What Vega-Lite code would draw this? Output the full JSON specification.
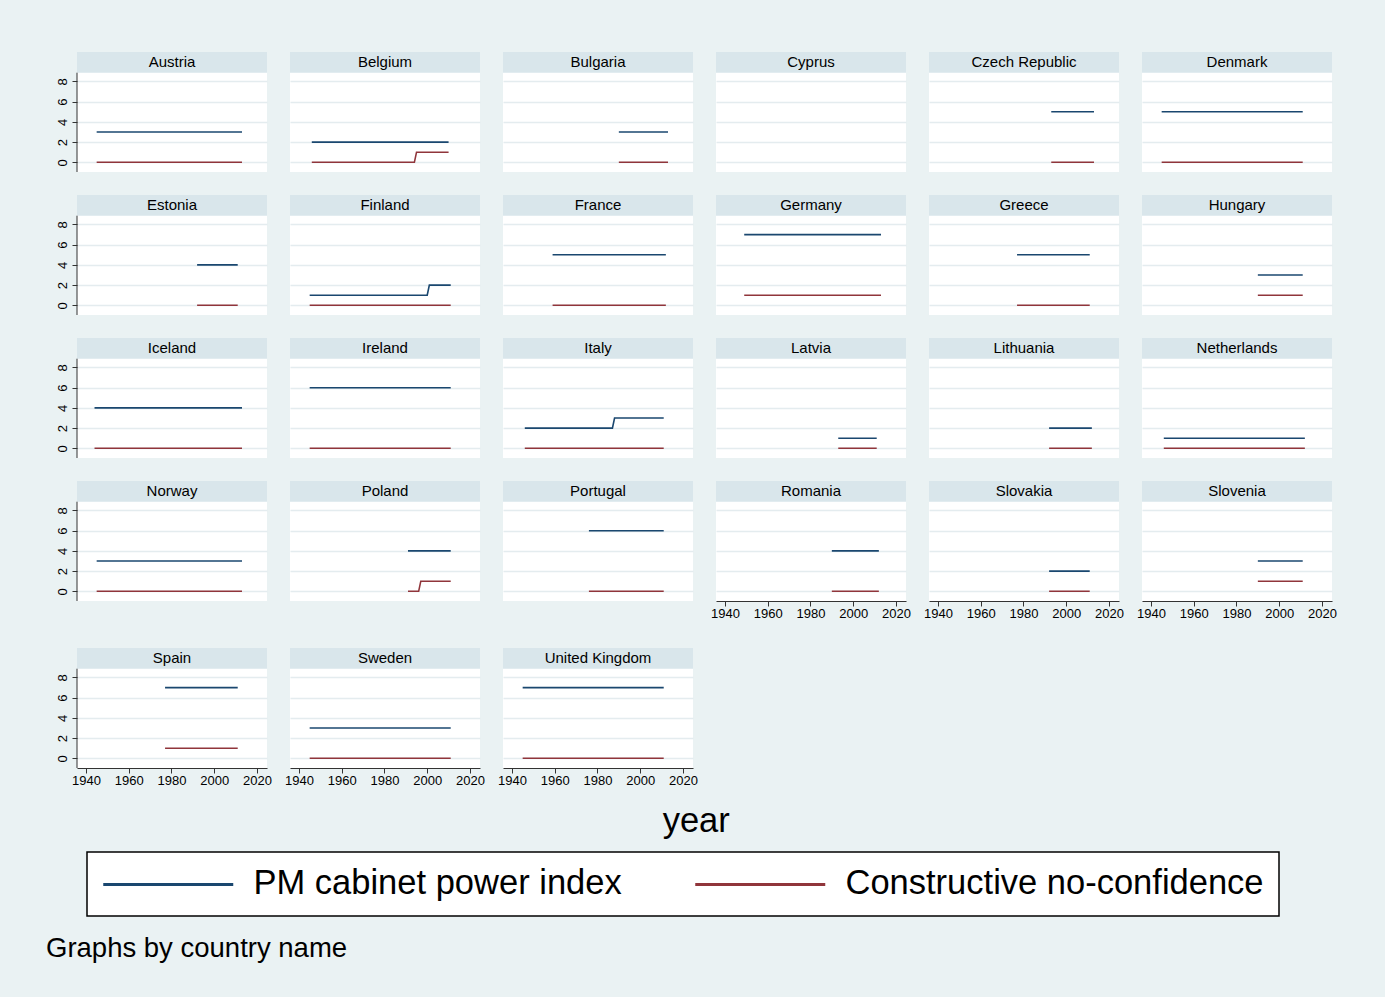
{
  "$schema": "https://vega.github.io/schema/vega-lite/v6.json",
  "background": "#eaf2f3",
  "padding": {"left": 46, "top": 52, "right": 48, "bottom": 35},
  "title": {"text": "Graphs by country name", "orient": "bottom", "anchor": "start", "fontSize": 27.5, "fontWeight": "normal", "color": "#000", "offset": 18, "dx": -10},
  "data": {"values": [
    {"country": "Austria", "year": 1945, "PM cabinet power index": 3, "Constructive no-confidence": 0},
    {"country": "Austria", "year": 2013, "PM cabinet power index": 3, "Constructive no-confidence": 0},
    {"country": "Belgium", "year": 1946, "PM cabinet power index": 2, "Constructive no-confidence": 0},
    {"country": "Belgium", "year": 1994, "PM cabinet power index": 2, "Constructive no-confidence": 0},
    {"country": "Belgium", "year": 1995, "PM cabinet power index": 2, "Constructive no-confidence": 1},
    {"country": "Belgium", "year": 2010, "PM cabinet power index": 2, "Constructive no-confidence": 1},
    {"country": "Bulgaria", "year": 1990, "PM cabinet power index": 3, "Constructive no-confidence": 0},
    {"country": "Bulgaria", "year": 2013, "PM cabinet power index": 3, "Constructive no-confidence": 0},
    {"country": "Cyprus", "year": 2000},
    {"country": "Czech Republic", "year": 1993, "PM cabinet power index": 5, "Constructive no-confidence": 0},
    {"country": "Czech Republic", "year": 2013, "PM cabinet power index": 5, "Constructive no-confidence": 0},
    {"country": "Denmark", "year": 1945, "PM cabinet power index": 5, "Constructive no-confidence": 0},
    {"country": "Denmark", "year": 2011, "PM cabinet power index": 5, "Constructive no-confidence": 0},
    {"country": "Estonia", "year": 1992, "PM cabinet power index": 4, "Constructive no-confidence": 0},
    {"country": "Estonia", "year": 2011, "PM cabinet power index": 4, "Constructive no-confidence": 0},
    {"country": "Finland", "year": 1945, "PM cabinet power index": 1, "Constructive no-confidence": 0},
    {"country": "Finland", "year": 2000, "PM cabinet power index": 1, "Constructive no-confidence": 0},
    {"country": "Finland", "year": 2001, "PM cabinet power index": 2, "Constructive no-confidence": 0},
    {"country": "Finland", "year": 2011, "PM cabinet power index": 2, "Constructive no-confidence": 0},
    {"country": "France", "year": 1959, "PM cabinet power index": 5, "Constructive no-confidence": 0},
    {"country": "France", "year": 2012, "PM cabinet power index": 5, "Constructive no-confidence": 0},
    {"country": "Germany", "year": 1949, "PM cabinet power index": 7, "Constructive no-confidence": 1},
    {"country": "Germany", "year": 2013, "PM cabinet power index": 7, "Constructive no-confidence": 1},
    {"country": "Greece", "year": 1977, "PM cabinet power index": 5, "Constructive no-confidence": 0},
    {"country": "Greece", "year": 2011, "PM cabinet power index": 5, "Constructive no-confidence": 0},
    {"country": "Hungary", "year": 1990, "PM cabinet power index": 3, "Constructive no-confidence": 1},
    {"country": "Hungary", "year": 2011, "PM cabinet power index": 3, "Constructive no-confidence": 1},
    {"country": "Iceland", "year": 1944, "PM cabinet power index": 4, "Constructive no-confidence": 0},
    {"country": "Iceland", "year": 2013, "PM cabinet power index": 4, "Constructive no-confidence": 0},
    {"country": "Ireland", "year": 1945, "PM cabinet power index": 6, "Constructive no-confidence": 0},
    {"country": "Ireland", "year": 2011, "PM cabinet power index": 6, "Constructive no-confidence": 0},
    {"country": "Italy", "year": 1946, "PM cabinet power index": 2, "Constructive no-confidence": 0},
    {"country": "Italy", "year": 1987, "PM cabinet power index": 2, "Constructive no-confidence": 0},
    {"country": "Italy", "year": 1988, "PM cabinet power index": 3, "Constructive no-confidence": 0},
    {"country": "Italy", "year": 2011, "PM cabinet power index": 3, "Constructive no-confidence": 0},
    {"country": "Latvia", "year": 1993, "PM cabinet power index": 1, "Constructive no-confidence": 0},
    {"country": "Latvia", "year": 2011, "PM cabinet power index": 1, "Constructive no-confidence": 0},
    {"country": "Lithuania", "year": 1992, "PM cabinet power index": 2, "Constructive no-confidence": 0},
    {"country": "Lithuania", "year": 2012, "PM cabinet power index": 2, "Constructive no-confidence": 0},
    {"country": "Netherlands", "year": 1946, "PM cabinet power index": 1, "Constructive no-confidence": 0},
    {"country": "Netherlands", "year": 2012, "PM cabinet power index": 1, "Constructive no-confidence": 0},
    {"country": "Norway", "year": 1945, "PM cabinet power index": 3, "Constructive no-confidence": 0},
    {"country": "Norway", "year": 2013, "PM cabinet power index": 3, "Constructive no-confidence": 0},
    {"country": "Poland", "year": 1991, "PM cabinet power index": 4, "Constructive no-confidence": 0},
    {"country": "Poland", "year": 1996, "PM cabinet power index": 4, "Constructive no-confidence": 0},
    {"country": "Poland", "year": 1997, "PM cabinet power index": 4, "Constructive no-confidence": 1},
    {"country": "Poland", "year": 2011, "PM cabinet power index": 4, "Constructive no-confidence": 1},
    {"country": "Portugal", "year": 1976, "PM cabinet power index": 6, "Constructive no-confidence": 0},
    {"country": "Portugal", "year": 2011, "PM cabinet power index": 6, "Constructive no-confidence": 0},
    {"country": "Romania", "year": 1990, "PM cabinet power index": 4, "Constructive no-confidence": 0},
    {"country": "Romania", "year": 2012, "PM cabinet power index": 4, "Constructive no-confidence": 0},
    {"country": "Slovakia", "year": 1992, "PM cabinet power index": 2, "Constructive no-confidence": 0},
    {"country": "Slovakia", "year": 2011, "PM cabinet power index": 2, "Constructive no-confidence": 0},
    {"country": "Slovenia", "year": 1990, "PM cabinet power index": 3, "Constructive no-confidence": 1},
    {"country": "Slovenia", "year": 2011, "PM cabinet power index": 3, "Constructive no-confidence": 1},
    {"country": "Spain", "year": 1977, "PM cabinet power index": 7, "Constructive no-confidence": 1},
    {"country": "Spain", "year": 2011, "PM cabinet power index": 7, "Constructive no-confidence": 1},
    {"country": "Sweden", "year": 1945, "PM cabinet power index": 3, "Constructive no-confidence": 0},
    {"country": "Sweden", "year": 2011, "PM cabinet power index": 3, "Constructive no-confidence": 0},
    {"country": "United Kingdom", "year": 1945, "PM cabinet power index": 7, "Constructive no-confidence": 0},
    {"country": "United Kingdom", "year": 2011, "PM cabinet power index": 7, "Constructive no-confidence": 0}
  ]},
  "transform": [{"fold": ["PM cabinet power index", "Constructive no-confidence"], "as": ["series", "value"]}],
  "vconcat": [
    {
      "title": {"text": "year", "orient": "bottom", "anchor": "middle", "fontSize": 34.5, "fontWeight": "normal", "color": "#000", "offset": 18},
      "spacing": 28,
      "vconcat": [
        {"spacing": 22, "vconcat": [
        {"spacing": 23, "bounds": "flush", "hconcat": [
          {"transform": [{"filter": {"field": "country", "equal": "Austria"}}], "layer": [
            {"transform": [{"aggregate": [{"op": "count", "as": "n"}], "groupby": ["country"]}], "layer": [
              {"mark": {"type": "rect", "fill": "#d9e6eb"}, "encoding": {"x": {"datum": 1935.8, "type": "quantitative"}, "x2": {"datum": 2024.7}, "y": {"datum": 8.87, "type": "quantitative"}, "y2": {"datum": 10.92}}},
              {"mark": {"type": "text", "fontSize": 15, "color": "#000", "baseline": "middle"}, "encoding": {"text": {"field": "country", "type": "nominal"}, "y": {"datum": 9.9, "type": "quantitative"}}},
              {"mark": {"type": "rule", "color": "#333"}, "encoding": {"x": {"datum": 1935.8, "type": "quantitative"}, "y": {"datum": -0.96, "type": "quantitative"}, "y2": {"datum": 8.87}}}
            ]},
            {"mark": {"type": "line", "strokeWidth": 1.6}, "encoding": {
              "x": {"field": "year", "type": "quantitative", "scale": {"domain": [1935.8, 2024.7], "nice": false, "zero": false}, "axis": {"title": null, "labels": false, "ticks": false, "domain": false, "grid": false}},
              "y": {"field": "value", "type": "quantitative", "scale": {"domain": [-0.96, 10.92], "nice": false, "zero": false}, "axis": {"values": [0, 2, 4, 6, 8], "tickCount": 10, "title": null, "domain": false, "labelAngle": -90, "labelAlign": "center", "labelBaseline": "bottom", "labelOverlap": false, "tickSize": 5, "labelPadding": 3, "grid": true}},
              "color": {"field": "series", "type": "nominal", "scale": {"domain": ["PM cabinet power index", "Constructive no-confidence"], "range": ["#1a476f", "#90353b"]}, "legend": {"title": null, "orient": "none", "legendX": 10, "legendY": 800, "direction": "horizontal", "columns": 2, "gridAlign": "all"}}}}
          ]},
          {"transform": [{"filter": {"field": "country", "equal": "Belgium"}}], "layer": [
            {"transform": [{"aggregate": [{"op": "count", "as": "n"}], "groupby": ["country"]}], "layer": [
              {"mark": {"type": "rect", "fill": "#d9e6eb"}, "encoding": {"x": {"datum": 1935.8, "type": "quantitative"}, "x2": {"datum": 2024.7}, "y": {"datum": 8.87, "type": "quantitative"}, "y2": {"datum": 10.92}}},
              {"mark": {"type": "text", "fontSize": 15, "color": "#000", "baseline": "middle"}, "encoding": {"text": {"field": "country", "type": "nominal"}, "y": {"datum": 9.9, "type": "quantitative"}}}
            ]},
            {"mark": {"type": "line", "strokeWidth": 1.6}, "encoding": {
              "x": {"field": "year", "type": "quantitative", "scale": {"domain": [1935.8, 2024.7], "nice": false, "zero": false}, "axis": {"title": null, "labels": false, "ticks": false, "domain": false, "grid": false}},
              "y": {"field": "value", "type": "quantitative", "scale": {"domain": [-0.96, 10.92], "nice": false, "zero": false}, "axis": {"values": [0, 2, 4, 6, 8], "tickCount": 10, "title": null, "domain": false, "labels": false, "ticks": false, "grid": true}},
              "color": {"field": "series", "type": "nominal", "scale": {"domain": ["PM cabinet power index", "Constructive no-confidence"], "range": ["#1a476f", "#90353b"]}, "legend": null}}}
          ]},
          {"transform": [{"filter": {"field": "country", "equal": "Bulgaria"}}], "layer": [
            {"transform": [{"aggregate": [{"op": "count", "as": "n"}], "groupby": ["country"]}], "layer": [
              {"mark": {"type": "rect", "fill": "#d9e6eb"}, "encoding": {"x": {"datum": 1935.8, "type": "quantitative"}, "x2": {"datum": 2024.7}, "y": {"datum": 8.87, "type": "quantitative"}, "y2": {"datum": 10.92}}},
              {"mark": {"type": "text", "fontSize": 15, "color": "#000", "baseline": "middle"}, "encoding": {"text": {"field": "country", "type": "nominal"}, "y": {"datum": 9.9, "type": "quantitative"}}}
            ]},
            {"mark": {"type": "line", "strokeWidth": 1.6}, "encoding": {
              "x": {"field": "year", "type": "quantitative", "scale": {"domain": [1935.8, 2024.7], "nice": false, "zero": false}, "axis": {"title": null, "labels": false, "ticks": false, "domain": false, "grid": false}},
              "y": {"field": "value", "type": "quantitative", "scale": {"domain": [-0.96, 10.92], "nice": false, "zero": false}, "axis": {"values": [0, 2, 4, 6, 8], "tickCount": 10, "title": null, "domain": false, "labels": false, "ticks": false, "grid": true}},
              "color": {"field": "series", "type": "nominal", "scale": {"domain": ["PM cabinet power index", "Constructive no-confidence"], "range": ["#1a476f", "#90353b"]}, "legend": null}}}
          ]},
          {"transform": [{"filter": {"field": "country", "equal": "Cyprus"}}], "layer": [
            {"transform": [{"aggregate": [{"op": "count", "as": "n"}], "groupby": ["country"]}], "layer": [
              {"mark": {"type": "rect", "fill": "#d9e6eb"}, "encoding": {"x": {"datum": 1935.8, "type": "quantitative"}, "x2": {"datum": 2024.7}, "y": {"datum": 8.87, "type": "quantitative"}, "y2": {"datum": 10.92}}},
              {"mark": {"type": "text", "fontSize": 15, "color": "#000", "baseline": "middle"}, "encoding": {"text": {"field": "country", "type": "nominal"}, "y": {"datum": 9.9, "type": "quantitative"}}}
            ]},
            {"mark": {"type": "line", "strokeWidth": 1.6}, "encoding": {
              "x": {"field": "year", "type": "quantitative", "scale": {"domain": [1935.8, 2024.7], "nice": false, "zero": false}, "axis": {"title": null, "labels": false, "ticks": false, "domain": false, "grid": false}},
              "y": {"field": "value", "type": "quantitative", "scale": {"domain": [-0.96, 10.92], "nice": false, "zero": false}, "axis": {"values": [0, 2, 4, 6, 8], "tickCount": 10, "title": null, "domain": false, "labels": false, "ticks": false, "grid": true}},
              "color": {"field": "series", "type": "nominal", "scale": {"domain": ["PM cabinet power index", "Constructive no-confidence"], "range": ["#1a476f", "#90353b"]}, "legend": null}}}
          ]},
          {"transform": [{"filter": {"field": "country", "equal": "Czech Republic"}}], "layer": [
            {"transform": [{"aggregate": [{"op": "count", "as": "n"}], "groupby": ["country"]}], "layer": [
              {"mark": {"type": "rect", "fill": "#d9e6eb"}, "encoding": {"x": {"datum": 1935.8, "type": "quantitative"}, "x2": {"datum": 2024.7}, "y": {"datum": 8.87, "type": "quantitative"}, "y2": {"datum": 10.92}}},
              {"mark": {"type": "text", "fontSize": 15, "color": "#000", "baseline": "middle"}, "encoding": {"text": {"field": "country", "type": "nominal"}, "y": {"datum": 9.9, "type": "quantitative"}}}
            ]},
            {"mark": {"type": "line", "strokeWidth": 1.6}, "encoding": {
              "x": {"field": "year", "type": "quantitative", "scale": {"domain": [1935.8, 2024.7], "nice": false, "zero": false}, "axis": {"title": null, "labels": false, "ticks": false, "domain": false, "grid": false}},
              "y": {"field": "value", "type": "quantitative", "scale": {"domain": [-0.96, 10.92], "nice": false, "zero": false}, "axis": {"values": [0, 2, 4, 6, 8], "tickCount": 10, "title": null, "domain": false, "labels": false, "ticks": false, "grid": true}},
              "color": {"field": "series", "type": "nominal", "scale": {"domain": ["PM cabinet power index", "Constructive no-confidence"], "range": ["#1a476f", "#90353b"]}, "legend": null}}}
          ]},
          {"transform": [{"filter": {"field": "country", "equal": "Denmark"}}], "layer": [
            {"transform": [{"aggregate": [{"op": "count", "as": "n"}], "groupby": ["country"]}], "layer": [
              {"mark": {"type": "rect", "fill": "#d9e6eb"}, "encoding": {"x": {"datum": 1935.8, "type": "quantitative"}, "x2": {"datum": 2024.7}, "y": {"datum": 8.87, "type": "quantitative"}, "y2": {"datum": 10.92}}},
              {"mark": {"type": "text", "fontSize": 15, "color": "#000", "baseline": "middle"}, "encoding": {"text": {"field": "country", "type": "nominal"}, "y": {"datum": 9.9, "type": "quantitative"}}}
            ]},
            {"mark": {"type": "line", "strokeWidth": 1.6}, "encoding": {
              "x": {"field": "year", "type": "quantitative", "scale": {"domain": [1935.8, 2024.7], "nice": false, "zero": false}, "axis": {"title": null, "labels": false, "ticks": false, "domain": false, "grid": false}},
              "y": {"field": "value", "type": "quantitative", "scale": {"domain": [-0.96, 10.92], "nice": false, "zero": false}, "axis": {"values": [0, 2, 4, 6, 8], "tickCount": 10, "title": null, "domain": false, "labels": false, "ticks": false, "grid": true}},
              "color": {"field": "series", "type": "nominal", "scale": {"domain": ["PM cabinet power index", "Constructive no-confidence"], "range": ["#1a476f", "#90353b"]}, "legend": null}}}
          ]}
        ]},
        {"spacing": 23, "bounds": "flush", "hconcat": [
          {"transform": [{"filter": {"field": "country", "equal": "Estonia"}}], "layer": [
            {"transform": [{"aggregate": [{"op": "count", "as": "n"}], "groupby": ["country"]}], "layer": [
              {"mark": {"type": "rect", "fill": "#d9e6eb"}, "encoding": {"x": {"datum": 1935.8, "type": "quantitative"}, "x2": {"datum": 2024.7}, "y": {"datum": 8.87, "type": "quantitative"}, "y2": {"datum": 10.92}}},
              {"mark": {"type": "text", "fontSize": 15, "color": "#000", "baseline": "middle"}, "encoding": {"text": {"field": "country", "type": "nominal"}, "y": {"datum": 9.9, "type": "quantitative"}}},
              {"mark": {"type": "rule", "color": "#333"}, "encoding": {"x": {"datum": 1935.8, "type": "quantitative"}, "y": {"datum": -0.96, "type": "quantitative"}, "y2": {"datum": 8.87}}}
            ]},
            {"mark": {"type": "line", "strokeWidth": 1.6}, "encoding": {
              "x": {"field": "year", "type": "quantitative", "scale": {"domain": [1935.8, 2024.7], "nice": false, "zero": false}, "axis": {"title": null, "labels": false, "ticks": false, "domain": false, "grid": false}},
              "y": {"field": "value", "type": "quantitative", "scale": {"domain": [-0.96, 10.92], "nice": false, "zero": false}, "axis": {"values": [0, 2, 4, 6, 8], "tickCount": 10, "title": null, "domain": false, "labelAngle": -90, "labelAlign": "center", "labelBaseline": "bottom", "labelOverlap": false, "tickSize": 5, "labelPadding": 3, "grid": true}},
              "color": {"field": "series", "type": "nominal", "scale": {"domain": ["PM cabinet power index", "Constructive no-confidence"], "range": ["#1a476f", "#90353b"]}, "legend": null}}}
          ]},
          {"transform": [{"filter": {"field": "country", "equal": "Finland"}}], "layer": [
            {"transform": [{"aggregate": [{"op": "count", "as": "n"}], "groupby": ["country"]}], "layer": [
              {"mark": {"type": "rect", "fill": "#d9e6eb"}, "encoding": {"x": {"datum": 1935.8, "type": "quantitative"}, "x2": {"datum": 2024.7}, "y": {"datum": 8.87, "type": "quantitative"}, "y2": {"datum": 10.92}}},
              {"mark": {"type": "text", "fontSize": 15, "color": "#000", "baseline": "middle"}, "encoding": {"text": {"field": "country", "type": "nominal"}, "y": {"datum": 9.9, "type": "quantitative"}}}
            ]},
            {"mark": {"type": "line", "strokeWidth": 1.6}, "encoding": {
              "x": {"field": "year", "type": "quantitative", "scale": {"domain": [1935.8, 2024.7], "nice": false, "zero": false}, "axis": {"title": null, "labels": false, "ticks": false, "domain": false, "grid": false}},
              "y": {"field": "value", "type": "quantitative", "scale": {"domain": [-0.96, 10.92], "nice": false, "zero": false}, "axis": {"values": [0, 2, 4, 6, 8], "tickCount": 10, "title": null, "domain": false, "labels": false, "ticks": false, "grid": true}},
              "color": {"field": "series", "type": "nominal", "scale": {"domain": ["PM cabinet power index", "Constructive no-confidence"], "range": ["#1a476f", "#90353b"]}, "legend": null}}}
          ]},
          {"transform": [{"filter": {"field": "country", "equal": "France"}}], "layer": [
            {"transform": [{"aggregate": [{"op": "count", "as": "n"}], "groupby": ["country"]}], "layer": [
              {"mark": {"type": "rect", "fill": "#d9e6eb"}, "encoding": {"x": {"datum": 1935.8, "type": "quantitative"}, "x2": {"datum": 2024.7}, "y": {"datum": 8.87, "type": "quantitative"}, "y2": {"datum": 10.92}}},
              {"mark": {"type": "text", "fontSize": 15, "color": "#000", "baseline": "middle"}, "encoding": {"text": {"field": "country", "type": "nominal"}, "y": {"datum": 9.9, "type": "quantitative"}}}
            ]},
            {"mark": {"type": "line", "strokeWidth": 1.6}, "encoding": {
              "x": {"field": "year", "type": "quantitative", "scale": {"domain": [1935.8, 2024.7], "nice": false, "zero": false}, "axis": {"title": null, "labels": false, "ticks": false, "domain": false, "grid": false}},
              "y": {"field": "value", "type": "quantitative", "scale": {"domain": [-0.96, 10.92], "nice": false, "zero": false}, "axis": {"values": [0, 2, 4, 6, 8], "tickCount": 10, "title": null, "domain": false, "labels": false, "ticks": false, "grid": true}},
              "color": {"field": "series", "type": "nominal", "scale": {"domain": ["PM cabinet power index", "Constructive no-confidence"], "range": ["#1a476f", "#90353b"]}, "legend": null}}}
          ]},
          {"transform": [{"filter": {"field": "country", "equal": "Germany"}}], "layer": [
            {"transform": [{"aggregate": [{"op": "count", "as": "n"}], "groupby": ["country"]}], "layer": [
              {"mark": {"type": "rect", "fill": "#d9e6eb"}, "encoding": {"x": {"datum": 1935.8, "type": "quantitative"}, "x2": {"datum": 2024.7}, "y": {"datum": 8.87, "type": "quantitative"}, "y2": {"datum": 10.92}}},
              {"mark": {"type": "text", "fontSize": 15, "color": "#000", "baseline": "middle"}, "encoding": {"text": {"field": "country", "type": "nominal"}, "y": {"datum": 9.9, "type": "quantitative"}}}
            ]},
            {"mark": {"type": "line", "strokeWidth": 1.6}, "encoding": {
              "x": {"field": "year", "type": "quantitative", "scale": {"domain": [1935.8, 2024.7], "nice": false, "zero": false}, "axis": {"title": null, "labels": false, "ticks": false, "domain": false, "grid": false}},
              "y": {"field": "value", "type": "quantitative", "scale": {"domain": [-0.96, 10.92], "nice": false, "zero": false}, "axis": {"values": [0, 2, 4, 6, 8], "tickCount": 10, "title": null, "domain": false, "labels": false, "ticks": false, "grid": true}},
              "color": {"field": "series", "type": "nominal", "scale": {"domain": ["PM cabinet power index", "Constructive no-confidence"], "range": ["#1a476f", "#90353b"]}, "legend": null}}}
          ]},
          {"transform": [{"filter": {"field": "country", "equal": "Greece"}}], "layer": [
            {"transform": [{"aggregate": [{"op": "count", "as": "n"}], "groupby": ["country"]}], "layer": [
              {"mark": {"type": "rect", "fill": "#d9e6eb"}, "encoding": {"x": {"datum": 1935.8, "type": "quantitative"}, "x2": {"datum": 2024.7}, "y": {"datum": 8.87, "type": "quantitative"}, "y2": {"datum": 10.92}}},
              {"mark": {"type": "text", "fontSize": 15, "color": "#000", "baseline": "middle"}, "encoding": {"text": {"field": "country", "type": "nominal"}, "y": {"datum": 9.9, "type": "quantitative"}}}
            ]},
            {"mark": {"type": "line", "strokeWidth": 1.6}, "encoding": {
              "x": {"field": "year", "type": "quantitative", "scale": {"domain": [1935.8, 2024.7], "nice": false, "zero": false}, "axis": {"title": null, "labels": false, "ticks": false, "domain": false, "grid": false}},
              "y": {"field": "value", "type": "quantitative", "scale": {"domain": [-0.96, 10.92], "nice": false, "zero": false}, "axis": {"values": [0, 2, 4, 6, 8], "tickCount": 10, "title": null, "domain": false, "labels": false, "ticks": false, "grid": true}},
              "color": {"field": "series", "type": "nominal", "scale": {"domain": ["PM cabinet power index", "Constructive no-confidence"], "range": ["#1a476f", "#90353b"]}, "legend": null}}}
          ]},
          {"transform": [{"filter": {"field": "country", "equal": "Hungary"}}], "layer": [
            {"transform": [{"aggregate": [{"op": "count", "as": "n"}], "groupby": ["country"]}], "layer": [
              {"mark": {"type": "rect", "fill": "#d9e6eb"}, "encoding": {"x": {"datum": 1935.8, "type": "quantitative"}, "x2": {"datum": 2024.7}, "y": {"datum": 8.87, "type": "quantitative"}, "y2": {"datum": 10.92}}},
              {"mark": {"type": "text", "fontSize": 15, "color": "#000", "baseline": "middle"}, "encoding": {"text": {"field": "country", "type": "nominal"}, "y": {"datum": 9.9, "type": "quantitative"}}}
            ]},
            {"mark": {"type": "line", "strokeWidth": 1.6}, "encoding": {
              "x": {"field": "year", "type": "quantitative", "scale": {"domain": [1935.8, 2024.7], "nice": false, "zero": false}, "axis": {"title": null, "labels": false, "ticks": false, "domain": false, "grid": false}},
              "y": {"field": "value", "type": "quantitative", "scale": {"domain": [-0.96, 10.92], "nice": false, "zero": false}, "axis": {"values": [0, 2, 4, 6, 8], "tickCount": 10, "title": null, "domain": false, "labels": false, "ticks": false, "grid": true}},
              "color": {"field": "series", "type": "nominal", "scale": {"domain": ["PM cabinet power index", "Constructive no-confidence"], "range": ["#1a476f", "#90353b"]}, "legend": null}}}
          ]}
        ]},
        {"spacing": 23, "bounds": "flush", "hconcat": [
          {"transform": [{"filter": {"field": "country", "equal": "Iceland"}}], "layer": [
            {"transform": [{"aggregate": [{"op": "count", "as": "n"}], "groupby": ["country"]}], "layer": [
              {"mark": {"type": "rect", "fill": "#d9e6eb"}, "encoding": {"x": {"datum": 1935.8, "type": "quantitative"}, "x2": {"datum": 2024.7}, "y": {"datum": 8.87, "type": "quantitative"}, "y2": {"datum": 10.92}}},
              {"mark": {"type": "text", "fontSize": 15, "color": "#000", "baseline": "middle"}, "encoding": {"text": {"field": "country", "type": "nominal"}, "y": {"datum": 9.9, "type": "quantitative"}}},
              {"mark": {"type": "rule", "color": "#333"}, "encoding": {"x": {"datum": 1935.8, "type": "quantitative"}, "y": {"datum": -0.96, "type": "quantitative"}, "y2": {"datum": 8.87}}}
            ]},
            {"mark": {"type": "line", "strokeWidth": 1.6}, "encoding": {
              "x": {"field": "year", "type": "quantitative", "scale": {"domain": [1935.8, 2024.7], "nice": false, "zero": false}, "axis": {"title": null, "labels": false, "ticks": false, "domain": false, "grid": false}},
              "y": {"field": "value", "type": "quantitative", "scale": {"domain": [-0.96, 10.92], "nice": false, "zero": false}, "axis": {"values": [0, 2, 4, 6, 8], "tickCount": 10, "title": null, "domain": false, "labelAngle": -90, "labelAlign": "center", "labelBaseline": "bottom", "labelOverlap": false, "tickSize": 5, "labelPadding": 3, "grid": true}},
              "color": {"field": "series", "type": "nominal", "scale": {"domain": ["PM cabinet power index", "Constructive no-confidence"], "range": ["#1a476f", "#90353b"]}, "legend": null}}}
          ]},
          {"transform": [{"filter": {"field": "country", "equal": "Ireland"}}], "layer": [
            {"transform": [{"aggregate": [{"op": "count", "as": "n"}], "groupby": ["country"]}], "layer": [
              {"mark": {"type": "rect", "fill": "#d9e6eb"}, "encoding": {"x": {"datum": 1935.8, "type": "quantitative"}, "x2": {"datum": 2024.7}, "y": {"datum": 8.87, "type": "quantitative"}, "y2": {"datum": 10.92}}},
              {"mark": {"type": "text", "fontSize": 15, "color": "#000", "baseline": "middle"}, "encoding": {"text": {"field": "country", "type": "nominal"}, "y": {"datum": 9.9, "type": "quantitative"}}}
            ]},
            {"mark": {"type": "line", "strokeWidth": 1.6}, "encoding": {
              "x": {"field": "year", "type": "quantitative", "scale": {"domain": [1935.8, 2024.7], "nice": false, "zero": false}, "axis": {"title": null, "labels": false, "ticks": false, "domain": false, "grid": false}},
              "y": {"field": "value", "type": "quantitative", "scale": {"domain": [-0.96, 10.92], "nice": false, "zero": false}, "axis": {"values": [0, 2, 4, 6, 8], "tickCount": 10, "title": null, "domain": false, "labels": false, "ticks": false, "grid": true}},
              "color": {"field": "series", "type": "nominal", "scale": {"domain": ["PM cabinet power index", "Constructive no-confidence"], "range": ["#1a476f", "#90353b"]}, "legend": null}}}
          ]},
          {"transform": [{"filter": {"field": "country", "equal": "Italy"}}], "layer": [
            {"transform": [{"aggregate": [{"op": "count", "as": "n"}], "groupby": ["country"]}], "layer": [
              {"mark": {"type": "rect", "fill": "#d9e6eb"}, "encoding": {"x": {"datum": 1935.8, "type": "quantitative"}, "x2": {"datum": 2024.7}, "y": {"datum": 8.87, "type": "quantitative"}, "y2": {"datum": 10.92}}},
              {"mark": {"type": "text", "fontSize": 15, "color": "#000", "baseline": "middle"}, "encoding": {"text": {"field": "country", "type": "nominal"}, "y": {"datum": 9.9, "type": "quantitative"}}}
            ]},
            {"mark": {"type": "line", "strokeWidth": 1.6}, "encoding": {
              "x": {"field": "year", "type": "quantitative", "scale": {"domain": [1935.8, 2024.7], "nice": false, "zero": false}, "axis": {"title": null, "labels": false, "ticks": false, "domain": false, "grid": false}},
              "y": {"field": "value", "type": "quantitative", "scale": {"domain": [-0.96, 10.92], "nice": false, "zero": false}, "axis": {"values": [0, 2, 4, 6, 8], "tickCount": 10, "title": null, "domain": false, "labels": false, "ticks": false, "grid": true}},
              "color": {"field": "series", "type": "nominal", "scale": {"domain": ["PM cabinet power index", "Constructive no-confidence"], "range": ["#1a476f", "#90353b"]}, "legend": null}}}
          ]},
          {"transform": [{"filter": {"field": "country", "equal": "Latvia"}}], "layer": [
            {"transform": [{"aggregate": [{"op": "count", "as": "n"}], "groupby": ["country"]}], "layer": [
              {"mark": {"type": "rect", "fill": "#d9e6eb"}, "encoding": {"x": {"datum": 1935.8, "type": "quantitative"}, "x2": {"datum": 2024.7}, "y": {"datum": 8.87, "type": "quantitative"}, "y2": {"datum": 10.92}}},
              {"mark": {"type": "text", "fontSize": 15, "color": "#000", "baseline": "middle"}, "encoding": {"text": {"field": "country", "type": "nominal"}, "y": {"datum": 9.9, "type": "quantitative"}}}
            ]},
            {"mark": {"type": "line", "strokeWidth": 1.6}, "encoding": {
              "x": {"field": "year", "type": "quantitative", "scale": {"domain": [1935.8, 2024.7], "nice": false, "zero": false}, "axis": {"title": null, "labels": false, "ticks": false, "domain": false, "grid": false}},
              "y": {"field": "value", "type": "quantitative", "scale": {"domain": [-0.96, 10.92], "nice": false, "zero": false}, "axis": {"values": [0, 2, 4, 6, 8], "tickCount": 10, "title": null, "domain": false, "labels": false, "ticks": false, "grid": true}},
              "color": {"field": "series", "type": "nominal", "scale": {"domain": ["PM cabinet power index", "Constructive no-confidence"], "range": ["#1a476f", "#90353b"]}, "legend": null}}}
          ]},
          {"transform": [{"filter": {"field": "country", "equal": "Lithuania"}}], "layer": [
            {"transform": [{"aggregate": [{"op": "count", "as": "n"}], "groupby": ["country"]}], "layer": [
              {"mark": {"type": "rect", "fill": "#d9e6eb"}, "encoding": {"x": {"datum": 1935.8, "type": "quantitative"}, "x2": {"datum": 2024.7}, "y": {"datum": 8.87, "type": "quantitative"}, "y2": {"datum": 10.92}}},
              {"mark": {"type": "text", "fontSize": 15, "color": "#000", "baseline": "middle"}, "encoding": {"text": {"field": "country", "type": "nominal"}, "y": {"datum": 9.9, "type": "quantitative"}}}
            ]},
            {"mark": {"type": "line", "strokeWidth": 1.6}, "encoding": {
              "x": {"field": "year", "type": "quantitative", "scale": {"domain": [1935.8, 2024.7], "nice": false, "zero": false}, "axis": {"title": null, "labels": false, "ticks": false, "domain": false, "grid": false}},
              "y": {"field": "value", "type": "quantitative", "scale": {"domain": [-0.96, 10.92], "nice": false, "zero": false}, "axis": {"values": [0, 2, 4, 6, 8], "tickCount": 10, "title": null, "domain": false, "labels": false, "ticks": false, "grid": true}},
              "color": {"field": "series", "type": "nominal", "scale": {"domain": ["PM cabinet power index", "Constructive no-confidence"], "range": ["#1a476f", "#90353b"]}, "legend": null}}}
          ]},
          {"transform": [{"filter": {"field": "country", "equal": "Netherlands"}}], "layer": [
            {"transform": [{"aggregate": [{"op": "count", "as": "n"}], "groupby": ["country"]}], "layer": [
              {"mark": {"type": "rect", "fill": "#d9e6eb"}, "encoding": {"x": {"datum": 1935.8, "type": "quantitative"}, "x2": {"datum": 2024.7}, "y": {"datum": 8.87, "type": "quantitative"}, "y2": {"datum": 10.92}}},
              {"mark": {"type": "text", "fontSize": 15, "color": "#000", "baseline": "middle"}, "encoding": {"text": {"field": "country", "type": "nominal"}, "y": {"datum": 9.9, "type": "quantitative"}}}
            ]},
            {"mark": {"type": "line", "strokeWidth": 1.6}, "encoding": {
              "x": {"field": "year", "type": "quantitative", "scale": {"domain": [1935.8, 2024.7], "nice": false, "zero": false}, "axis": {"title": null, "labels": false, "ticks": false, "domain": false, "grid": false}},
              "y": {"field": "value", "type": "quantitative", "scale": {"domain": [-0.96, 10.92], "nice": false, "zero": false}, "axis": {"values": [0, 2, 4, 6, 8], "tickCount": 10, "title": null, "domain": false, "labels": false, "ticks": false, "grid": true}},
              "color": {"field": "series", "type": "nominal", "scale": {"domain": ["PM cabinet power index", "Constructive no-confidence"], "range": ["#1a476f", "#90353b"]}, "legend": null}}}
          ]}
        ]},
        {"spacing": 23, "bounds": "flush", "hconcat": [
          {"transform": [{"filter": {"field": "country", "equal": "Norway"}}], "layer": [
            {"transform": [{"aggregate": [{"op": "count", "as": "n"}], "groupby": ["country"]}], "layer": [
              {"mark": {"type": "rect", "fill": "#d9e6eb"}, "encoding": {"x": {"datum": 1935.8, "type": "quantitative"}, "x2": {"datum": 2024.7}, "y": {"datum": 8.87, "type": "quantitative"}, "y2": {"datum": 10.92}}},
              {"mark": {"type": "text", "fontSize": 15, "color": "#000", "baseline": "middle"}, "encoding": {"text": {"field": "country", "type": "nominal"}, "y": {"datum": 9.9, "type": "quantitative"}}},
              {"mark": {"type": "rule", "color": "#333"}, "encoding": {"x": {"datum": 1935.8, "type": "quantitative"}, "y": {"datum": -0.96, "type": "quantitative"}, "y2": {"datum": 8.87}}}
            ]},
            {"mark": {"type": "line", "strokeWidth": 1.6}, "encoding": {
              "x": {"field": "year", "type": "quantitative", "scale": {"domain": [1935.8, 2024.7], "nice": false, "zero": false}, "axis": {"title": null, "labels": false, "ticks": false, "domain": false, "grid": false}},
              "y": {"field": "value", "type": "quantitative", "scale": {"domain": [-0.96, 10.92], "nice": false, "zero": false}, "axis": {"values": [0, 2, 4, 6, 8], "tickCount": 10, "title": null, "domain": false, "labelAngle": -90, "labelAlign": "center", "labelBaseline": "bottom", "labelOverlap": false, "tickSize": 5, "labelPadding": 3, "grid": true}},
              "color": {"field": "series", "type": "nominal", "scale": {"domain": ["PM cabinet power index", "Constructive no-confidence"], "range": ["#1a476f", "#90353b"]}, "legend": null}}}
          ]},
          {"transform": [{"filter": {"field": "country", "equal": "Poland"}}], "layer": [
            {"transform": [{"aggregate": [{"op": "count", "as": "n"}], "groupby": ["country"]}], "layer": [
              {"mark": {"type": "rect", "fill": "#d9e6eb"}, "encoding": {"x": {"datum": 1935.8, "type": "quantitative"}, "x2": {"datum": 2024.7}, "y": {"datum": 8.87, "type": "quantitative"}, "y2": {"datum": 10.92}}},
              {"mark": {"type": "text", "fontSize": 15, "color": "#000", "baseline": "middle"}, "encoding": {"text": {"field": "country", "type": "nominal"}, "y": {"datum": 9.9, "type": "quantitative"}}}
            ]},
            {"mark": {"type": "line", "strokeWidth": 1.6}, "encoding": {
              "x": {"field": "year", "type": "quantitative", "scale": {"domain": [1935.8, 2024.7], "nice": false, "zero": false}, "axis": {"title": null, "labels": false, "ticks": false, "domain": false, "grid": false}},
              "y": {"field": "value", "type": "quantitative", "scale": {"domain": [-0.96, 10.92], "nice": false, "zero": false}, "axis": {"values": [0, 2, 4, 6, 8], "tickCount": 10, "title": null, "domain": false, "labels": false, "ticks": false, "grid": true}},
              "color": {"field": "series", "type": "nominal", "scale": {"domain": ["PM cabinet power index", "Constructive no-confidence"], "range": ["#1a476f", "#90353b"]}, "legend": null}}}
          ]},
          {"transform": [{"filter": {"field": "country", "equal": "Portugal"}}], "layer": [
            {"transform": [{"aggregate": [{"op": "count", "as": "n"}], "groupby": ["country"]}], "layer": [
              {"mark": {"type": "rect", "fill": "#d9e6eb"}, "encoding": {"x": {"datum": 1935.8, "type": "quantitative"}, "x2": {"datum": 2024.7}, "y": {"datum": 8.87, "type": "quantitative"}, "y2": {"datum": 10.92}}},
              {"mark": {"type": "text", "fontSize": 15, "color": "#000", "baseline": "middle"}, "encoding": {"text": {"field": "country", "type": "nominal"}, "y": {"datum": 9.9, "type": "quantitative"}}}
            ]},
            {"mark": {"type": "line", "strokeWidth": 1.6}, "encoding": {
              "x": {"field": "year", "type": "quantitative", "scale": {"domain": [1935.8, 2024.7], "nice": false, "zero": false}, "axis": {"title": null, "labels": false, "ticks": false, "domain": false, "grid": false}},
              "y": {"field": "value", "type": "quantitative", "scale": {"domain": [-0.96, 10.92], "nice": false, "zero": false}, "axis": {"values": [0, 2, 4, 6, 8], "tickCount": 10, "title": null, "domain": false, "labels": false, "ticks": false, "grid": true}},
              "color": {"field": "series", "type": "nominal", "scale": {"domain": ["PM cabinet power index", "Constructive no-confidence"], "range": ["#1a476f", "#90353b"]}, "legend": null}}}
          ]},
          {"transform": [{"filter": {"field": "country", "equal": "Romania"}}], "layer": [
            {"transform": [{"aggregate": [{"op": "count", "as": "n"}], "groupby": ["country"]}], "layer": [
              {"mark": {"type": "rect", "fill": "#d9e6eb"}, "encoding": {"x": {"datum": 1935.8, "type": "quantitative"}, "x2": {"datum": 2024.7}, "y": {"datum": 8.87, "type": "quantitative"}, "y2": {"datum": 10.92}}},
              {"mark": {"type": "text", "fontSize": 15, "color": "#000", "baseline": "middle"}, "encoding": {"text": {"field": "country", "type": "nominal"}, "y": {"datum": 9.9, "type": "quantitative"}}}
            ]},
            {"mark": {"type": "line", "strokeWidth": 1.6}, "encoding": {
              "x": {"field": "year", "type": "quantitative", "scale": {"domain": [1935.8, 2024.7], "nice": false, "zero": false}, "axis": {"values": [1940, 1960, 1980, 2000, 2020], "tickCount": 10, "format": "d", "title": null, "grid": false, "tickSize": 5, "labelPadding": 1}},
              "y": {"field": "value", "type": "quantitative", "scale": {"domain": [-0.96, 10.92], "nice": false, "zero": false}, "axis": {"values": [0, 2, 4, 6, 8], "tickCount": 10, "title": null, "domain": false, "labels": false, "ticks": false, "grid": true}},
              "color": {"field": "series", "type": "nominal", "scale": {"domain": ["PM cabinet power index", "Constructive no-confidence"], "range": ["#1a476f", "#90353b"]}, "legend": null}}}
          ]},
          {"transform": [{"filter": {"field": "country", "equal": "Slovakia"}}], "layer": [
            {"transform": [{"aggregate": [{"op": "count", "as": "n"}], "groupby": ["country"]}], "layer": [
              {"mark": {"type": "rect", "fill": "#d9e6eb"}, "encoding": {"x": {"datum": 1935.8, "type": "quantitative"}, "x2": {"datum": 2024.7}, "y": {"datum": 8.87, "type": "quantitative"}, "y2": {"datum": 10.92}}},
              {"mark": {"type": "text", "fontSize": 15, "color": "#000", "baseline": "middle"}, "encoding": {"text": {"field": "country", "type": "nominal"}, "y": {"datum": 9.9, "type": "quantitative"}}}
            ]},
            {"mark": {"type": "line", "strokeWidth": 1.6}, "encoding": {
              "x": {"field": "year", "type": "quantitative", "scale": {"domain": [1935.8, 2024.7], "nice": false, "zero": false}, "axis": {"values": [1940, 1960, 1980, 2000, 2020], "tickCount": 10, "format": "d", "title": null, "grid": false, "tickSize": 5, "labelPadding": 1}},
              "y": {"field": "value", "type": "quantitative", "scale": {"domain": [-0.96, 10.92], "nice": false, "zero": false}, "axis": {"values": [0, 2, 4, 6, 8], "tickCount": 10, "title": null, "domain": false, "labels": false, "ticks": false, "grid": true}},
              "color": {"field": "series", "type": "nominal", "scale": {"domain": ["PM cabinet power index", "Constructive no-confidence"], "range": ["#1a476f", "#90353b"]}, "legend": null}}}
          ]},
          {"transform": [{"filter": {"field": "country", "equal": "Slovenia"}}], "layer": [
            {"transform": [{"aggregate": [{"op": "count", "as": "n"}], "groupby": ["country"]}], "layer": [
              {"mark": {"type": "rect", "fill": "#d9e6eb"}, "encoding": {"x": {"datum": 1935.8, "type": "quantitative"}, "x2": {"datum": 2024.7}, "y": {"datum": 8.87, "type": "quantitative"}, "y2": {"datum": 10.92}}},
              {"mark": {"type": "text", "fontSize": 15, "color": "#000", "baseline": "middle"}, "encoding": {"text": {"field": "country", "type": "nominal"}, "y": {"datum": 9.9, "type": "quantitative"}}}
            ]},
            {"mark": {"type": "line", "strokeWidth": 1.6}, "encoding": {
              "x": {"field": "year", "type": "quantitative", "scale": {"domain": [1935.8, 2024.7], "nice": false, "zero": false}, "axis": {"values": [1940, 1960, 1980, 2000, 2020], "tickCount": 10, "format": "d", "title": null, "grid": false, "tickSize": 5, "labelPadding": 1}},
              "y": {"field": "value", "type": "quantitative", "scale": {"domain": [-0.96, 10.92], "nice": false, "zero": false}, "axis": {"values": [0, 2, 4, 6, 8], "tickCount": 10, "title": null, "domain": false, "labels": false, "ticks": false, "grid": true}},
              "color": {"field": "series", "type": "nominal", "scale": {"domain": ["PM cabinet power index", "Constructive no-confidence"], "range": ["#1a476f", "#90353b"]}, "legend": null}}}
          ]}
        ]}
        ]},
        {"spacing": 23, "bounds": "flush", "hconcat": [
          {"transform": [{"filter": {"field": "country", "equal": "Spain"}}], "layer": [
            {"transform": [{"aggregate": [{"op": "count", "as": "n"}], "groupby": ["country"]}], "layer": [
              {"mark": {"type": "rect", "fill": "#d9e6eb"}, "encoding": {"x": {"datum": 1935.8, "type": "quantitative"}, "x2": {"datum": 2024.7}, "y": {"datum": 8.87, "type": "quantitative"}, "y2": {"datum": 10.92}}},
              {"mark": {"type": "text", "fontSize": 15, "color": "#000", "baseline": "middle"}, "encoding": {"text": {"field": "country", "type": "nominal"}, "y": {"datum": 9.9, "type": "quantitative"}}},
              {"mark": {"type": "rule", "color": "#333"}, "encoding": {"x": {"datum": 1935.8, "type": "quantitative"}, "y": {"datum": -0.96, "type": "quantitative"}, "y2": {"datum": 8.87}}}
            ]},
            {"mark": {"type": "line", "strokeWidth": 1.6}, "encoding": {
              "x": {"field": "year", "type": "quantitative", "scale": {"domain": [1935.8, 2024.7], "nice": false, "zero": false}, "axis": {"values": [1940, 1960, 1980, 2000, 2020], "tickCount": 10, "format": "d", "title": null, "grid": false, "tickSize": 5, "labelPadding": 1}},
              "y": {"field": "value", "type": "quantitative", "scale": {"domain": [-0.96, 10.92], "nice": false, "zero": false}, "axis": {"values": [0, 2, 4, 6, 8], "tickCount": 10, "title": null, "domain": false, "labelAngle": -90, "labelAlign": "center", "labelBaseline": "bottom", "labelOverlap": false, "tickSize": 5, "labelPadding": 3, "grid": true}},
              "color": {"field": "series", "type": "nominal", "scale": {"domain": ["PM cabinet power index", "Constructive no-confidence"], "range": ["#1a476f", "#90353b"]}, "legend": null}}}
          ]},
          {"transform": [{"filter": {"field": "country", "equal": "Sweden"}}], "layer": [
            {"transform": [{"aggregate": [{"op": "count", "as": "n"}], "groupby": ["country"]}], "layer": [
              {"mark": {"type": "rect", "fill": "#d9e6eb"}, "encoding": {"x": {"datum": 1935.8, "type": "quantitative"}, "x2": {"datum": 2024.7}, "y": {"datum": 8.87, "type": "quantitative"}, "y2": {"datum": 10.92}}},
              {"mark": {"type": "text", "fontSize": 15, "color": "#000", "baseline": "middle"}, "encoding": {"text": {"field": "country", "type": "nominal"}, "y": {"datum": 9.9, "type": "quantitative"}}}
            ]},
            {"mark": {"type": "line", "strokeWidth": 1.6}, "encoding": {
              "x": {"field": "year", "type": "quantitative", "scale": {"domain": [1935.8, 2024.7], "nice": false, "zero": false}, "axis": {"values": [1940, 1960, 1980, 2000, 2020], "tickCount": 10, "format": "d", "title": null, "grid": false, "tickSize": 5, "labelPadding": 1}},
              "y": {"field": "value", "type": "quantitative", "scale": {"domain": [-0.96, 10.92], "nice": false, "zero": false}, "axis": {"values": [0, 2, 4, 6, 8], "tickCount": 10, "title": null, "domain": false, "labels": false, "ticks": false, "grid": true}},
              "color": {"field": "series", "type": "nominal", "scale": {"domain": ["PM cabinet power index", "Constructive no-confidence"], "range": ["#1a476f", "#90353b"]}, "legend": null}}}
          ]},
          {"transform": [{"filter": {"field": "country", "equal": "United Kingdom"}}], "layer": [
            {"transform": [{"aggregate": [{"op": "count", "as": "n"}], "groupby": ["country"]}], "layer": [
              {"mark": {"type": "rect", "fill": "#d9e6eb"}, "encoding": {"x": {"datum": 1935.8, "type": "quantitative"}, "x2": {"datum": 2024.7}, "y": {"datum": 8.87, "type": "quantitative"}, "y2": {"datum": 10.92}}},
              {"mark": {"type": "text", "fontSize": 15, "color": "#000", "baseline": "middle"}, "encoding": {"text": {"field": "country", "type": "nominal"}, "y": {"datum": 9.9, "type": "quantitative"}}}
            ]},
            {"mark": {"type": "line", "strokeWidth": 1.6}, "encoding": {
              "x": {"field": "year", "type": "quantitative", "scale": {"domain": [1935.8, 2024.7], "nice": false, "zero": false}, "axis": {"values": [1940, 1960, 1980, 2000, 2020], "tickCount": 10, "format": "d", "title": null, "grid": false, "tickSize": 5, "labelPadding": 1}},
              "y": {"field": "value", "type": "quantitative", "scale": {"domain": [-0.96, 10.92], "nice": false, "zero": false}, "axis": {"values": [0, 2, 4, 6, 8], "tickCount": 10, "title": null, "domain": false, "labels": false, "ticks": false, "grid": true}},
              "color": {"field": "series", "type": "nominal", "scale": {"domain": ["PM cabinet power index", "Constructive no-confidence"], "range": ["#1a476f", "#90353b"]}, "legend": null}}}
          ]}
        ]}
      ]
    }
  ],
  "config": {
    "font": "Liberation Sans",
    "view": {"stroke": null, "fill": "white", "continuousWidth": 190, "continuousHeight": 120},
    "axis": {"labelFont": "Liberation Sans", "labelFontSize": 13, "labelColor": "#000", "tickColor": "#333", "domainColor": "#333", "gridColor": "#e4ecef", "gridWidth": 1.5, "tickCount": 10, "labelOverlap": false, "labelFlush": false},
    "legend": {"labelFont": "Liberation Sans", "labelFontSize": 34.5, "labelColor": "#000", "strokeColor": "#000", "strokeWidth": 1.5, "fillColor": "white", "padding": 15, "symbolType": "M-1.6,0H11.4", "symbolSize": 400, "symbolStrokeWidth": 3, "labelOffset": 117, "columnPadding": 17, "labelLimit": 600}
  }
}
